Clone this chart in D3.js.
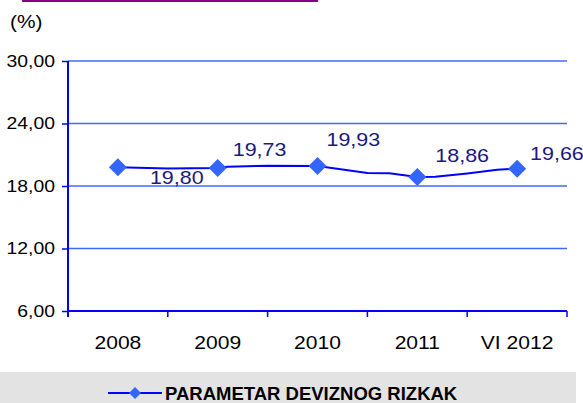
<!DOCTYPE html>
<html>
<head>
<meta charset="utf-8">
<script src="https://cdn.jsdelivr.net/npm/d3@7"></script>
<style>
  body { margin: 0; background: #fff; }
  text { font-family: Arial, "Liberation Sans", sans-serif; }
</style>
</head>
<body>
<svg id="canvas"></svg>
<script>
// categories and yearly values (marked points)
const years = ['2008', '2009', '2010', '2011', 'VI 2012'];
const values = [19.80, 19.73, 19.93, 18.86, 19.66];
const valueLabels = ['19,80', '19,73', '19,93', '18,86', '19,66'];

// the line also runs through sub-period readings between the years
const linePos = [0, 0.5, 1, 1.1, 1.5, 2, 2.5, 2.72, 3, 3.18, 3.5, 3.8, 4];
const lineVal = [19.80, 19.68, 19.73, 19.85, 19.95, 19.93, 19.25, 19.22, 18.86, 18.88, 19.2, 19.55, 19.66];

const yTicks = [6, 12, 18, 24, 30];
const seriesName = 'PARAMETAR DEVIZNOG RIZKAK';

// where each value label sits relative to its marker (hand placed, like the original)
const labelNudge = [[32, 17], [15, -12], [9, -20], [18, -15], [13, -9]];

let width = 583;
let height = 403;
let plotLeft = 68, plotRight = 567, plotTop = 61, plotBottom = 311;

let canvas = d3.select('#canvas')
    .attr('width', width)
    .attr('height', height);

// the original's glyphs are a bit wider than Arial, so stretch text sideways
function stretch (sel, sx) {
    sel.each(function () {
        let t = d3.select(this);
        let x = +t.attr('x') || 0;
        t.attr('x', x / sx).attr('transform', 'scale(' + sx + ',1)');
    });
}

let xBand = d3.scaleBand()
    .domain(years)
    .range([plotLeft, plotRight]);

// index scale so sub-period points land between the category centres
let xIdx = d3.scaleLinear()
    .domain([-0.5, years.length - 0.5])
    .range([plotLeft, plotRight]);

let yScale = d3.scaleLinear()
    .domain([6, 30])
    .range([plotBottom, plotTop]);

// purple rule at the top
canvas.append('line')
    .attr('x1', 22).attr('x2', 318)
    .attr('y1', 1).attr('y2', 1)
    .attr('stroke', '#8b008b')
    .attr('stroke-width', 2);

canvas.append('text')
    .attr('x', 10).attr('y', 28)
    .style('font-size', '18px')
    .attr('fill', '#000')
    .text('(%)')
    .call(stretch, 1.16);

// gridlines
canvas.append('g')
    .selectAll('line')
    .data(yTicks.filter(d => d > 6))
    .enter()
    .append('line')
    .attr('x1', plotLeft).attr('x2', plotRight)
    .attr('y1', d => yScale(d)).attr('y2', d => yScale(d))
    .attr('stroke', '#3d6bff')
    .attr('stroke-width', 1.5);

// y axis
let yAxis = d3.axisLeft(yScale)
    .tickValues(yTicks)
    .tickSize(6)
    .tickFormat(d => d3.format('.2f')(d).replace('.', ','));

let yG = canvas.append('g')
    .attr('transform', 'translate(' + plotLeft + ', 0)')
    .attr('font-family', 'Arial, "Liberation Sans", sans-serif')
    .call(yAxis);
yG.select('.domain').remove();
yG.append('line')
    .attr('x1', 0).attr('x2', 0)
    .attr('y1', plotTop).attr('y2', plotBottom + 6)
    .attr('stroke', '#0000ff').attr('stroke-width', 2);
yG.selectAll('.tick line').attr('stroke', '#0000ff').attr('stroke-width', 1.5);
yG.selectAll('.tick text')
    .style('font-size', '17px')
    .attr('fill', '#000')
    .attr('x', -13)
    .call(stretch, 1.14);

// x axis: ticks at band edges, labels at centres
let edges = d3.range(years.length + 1).map(i => plotLeft + i * xBand.bandwidth());
let xG = canvas.append('g');
xG.append('line')
    .attr('x1', plotLeft).attr('x2', plotRight)
    .attr('y1', plotBottom).attr('y2', plotBottom)
    .attr('stroke', '#0000ff').attr('stroke-width', 2);
xG.selectAll('line.tk')
    .data(edges)
    .enter()
    .append('line')
    .attr('class', 'tk')
    .attr('x1', d => d).attr('x2', d => d)
    .attr('y1', plotBottom).attr('y2', plotBottom + 6)
    .attr('stroke', '#0000ff').attr('stroke-width', 1.5);
xG.selectAll('text')
    .data(years)
    .enter()
    .append('text')
    .attr('x', d => xBand(d) + xBand.bandwidth() / 2)
    .attr('y', 349)
    .attr('text-anchor', 'middle')
    .style('font-size', '18px')
    .attr('fill', '#000')
    .text(d => d)
    .call(stretch, 1.17);

// the series line
let line = d3.line()
    .x(d => xIdx(d[0]))
    .y(d => yScale(d[1]));

canvas.append('path')
    .datum(linePos.map((p, i) => [p, lineVal[i]]))
    .attr('d', line)
    .attr('fill', 'none')
    .attr('stroke', '#0000ff')
    .attr('stroke-width', 2);

// diamond markers
let diamond = (cx, cy, r) => 'M' + cx + ',' + (cy - r) + 'L' + (cx + r) + ',' + cy +
    'L' + cx + ',' + (cy + r) + 'L' + (cx - r) + ',' + cy + 'Z';

canvas.append('g')
    .selectAll('path')
    .data(values)
    .enter()
    .append('path')
    .attr('d', (d, i) => diamond(xBand(years[i]) + xBand.bandwidth() / 2, yScale(d), 9))
    .attr('fill', '#3366ff');

// value labels
canvas.append('g')
    .selectAll('text')
    .data(values)
    .enter()
    .append('text')
    .attr('x', (d, i) => xBand(years[i]) + xBand.bandwidth() / 2 + labelNudge[i][0])
    .attr('y', (d, i) => yScale(d) + labelNudge[i][1])
    .style('font-size', '19px')
    .attr('fill', '#1a1a80')
    .text((d, i) => valueLabels[i])
    .call(stretch, 1.13);

// legend
let legend = canvas.append('g');
legend.append('rect')
    .attr('x', 0).attr('y', 372)
    .attr('width', 576).attr('height', 31)
    .attr('fill', '#e3e3e3');
legend.append('line')
    .attr('x1', 108).attr('x2', 162)
    .attr('y1', 393).attr('y2', 393)
    .attr('stroke', '#0000ff').attr('stroke-width', 2);
legend.append('path')
    .attr('d', diamond(135, 393, 6))
    .attr('fill', '#3366ff');
legend.append('text')
    .attr('x', 165).attr('y', 400)
    .style('font-size', '18.5px')
    .attr('font-weight', 'bold')
    .attr('fill', '#000')
    .text(seriesName);
</script>
</body>
</html>
